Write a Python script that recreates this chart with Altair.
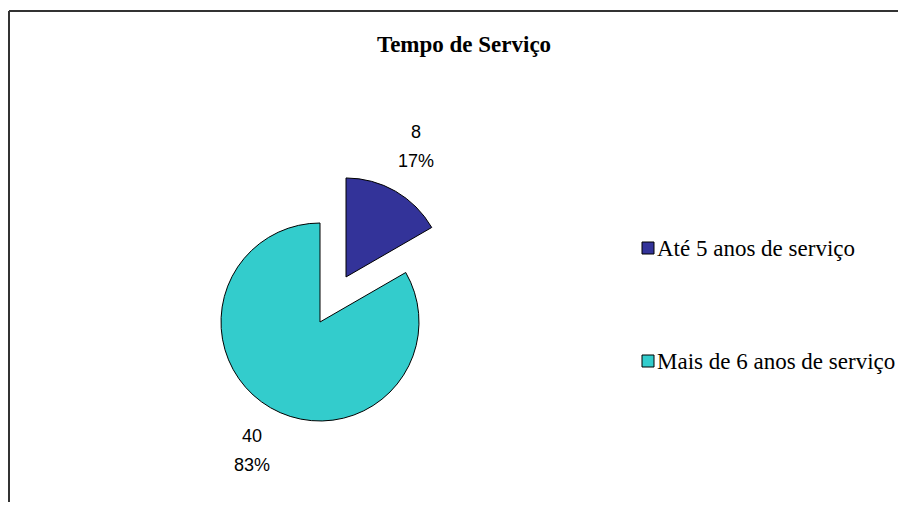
import math
import altair as alt
import pandas as pd

# ---- data ----
categories = ["Até 5 anos de serviço", "Mais de 6 anos de serviço"]
counts = [8, 40]
percent_labels = ["17%", "83%"]
slice_colors = ["#333399", "#33CCCC"]
title_text = "Tempo de Serviço"

total = sum(counts)
df = pd.DataFrame({
    "cat": categories,
    "value": counts,
    "pct": percent_labels,
    "order": list(range(len(categories))),
})

W, H = 890, 494
CX, CY = 312, 314          # pie centre (px)
R = 99                     # pie radius
EXPLODE = 52               # explode distance of first slice

th_scale = alt.Scale(domain=[0, total], range=[0, 2 * math.pi])
col_scale = alt.Scale(domain=categories, range=slice_colors)

# exploded offset from slice mid-angle
mid0 = 2 * math.pi * (counts[0] / 2) / total
ex_dx = EXPLODE * math.sin(mid0)
ex_dy = -EXPLODE * math.cos(mid0)

base = (
    alt.Chart(df)
    .transform_window(end="sum(value)", sort=[alt.SortField("order")], frame=[None, 0])
    .transform_calculate(start="datum.end - datum.value",
                         mid="datum.end - datum.value/2",
                         label="datum.value + '\\n' + datum.pct")
)

def slice_layer(idx, cx, cy, label_dx):
    b = base.transform_filter(f"datum.order == {idx}")
    arc = b.mark_arc(radius=R, stroke="black", strokeWidth=1).encode(
        theta=alt.Theta("start:Q", scale=th_scale),
        theta2="end:Q",
        color=alt.Color("cat:N", scale=col_scale, legend=None),
        x=alt.value(cx), y=alt.value(cy),
    )
    txt = b.mark_text(radius=150, font="Liberation Sans", fontSize=18,
                      lineBreak="\n", lineHeight=29, baseline="middle", dy=-14.5,
                      dx=label_dx, align="center", color="black").encode(
        theta=alt.Theta("mid:Q", scale=th_scale, stack=None),
        text="label:N",
        x=alt.value(cx), y=alt.value(cy),
    )
    return arc + txt

small = slice_layer(0, CX + ex_dx, CY + ex_dy, -5)
big = slice_layer(1, CX, CY, 7)

# legend (custom)
leg_y = alt.Y("cat:N", scale=alt.Scale(domain=categories, range=[240, 353], padding=0),
              axis=None)
leg_sq = alt.Chart(df).mark_square(size=144, stroke="black", strokeWidth=1, opacity=1).encode(
    y=leg_y, x=alt.value(640),
    color=alt.Color("cat:N", scale=col_scale, legend=None),
)
leg_txt = alt.Chart(df).mark_text(font="Liberation Serif", fontSize=23, align="left",
                                  baseline="alphabetic", dy=8, color="black").encode(
    y=leg_y, x=alt.value(649), text="cat:N",
)

one = alt.Chart(pd.DataFrame({"t": [title_text]}))
title = one.mark_text(font="Liberation Serif", fontSize=23, fontWeight="bold",
                      align="center", baseline="alphabetic", color="black").encode(
    x=alt.value(456), y=alt.value(44), text="t:N")

top_rule = one.mark_rule(color="#333333", strokeWidth=2).encode(
    x=alt.value(1), x2=alt.value(W), y=alt.value(3))
left_rule = one.mark_rule(color="#333333", strokeWidth=2).encode(
    x=alt.value(1), y=alt.value(3), y2=alt.value(H))

chart = (
    alt.layer(top_rule, left_rule, title, big, small, leg_sq, leg_txt)
    .properties(width=W, height=H, autosize=alt.AutoSizeParams(type="none"), padding=0,
                background="white")
    .configure_view(stroke=None)
)

chart.save("out.html", embed_options={"renderer": "svg", "actions": False})
